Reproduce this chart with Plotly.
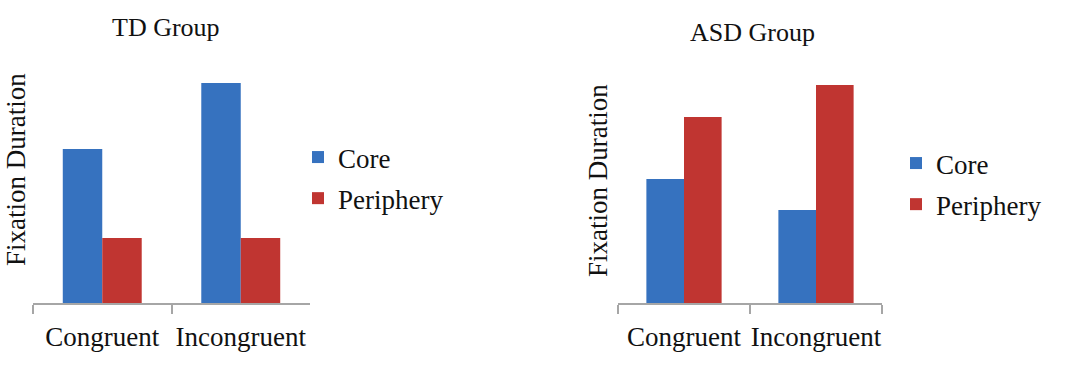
import plotly.graph_objects as go

W, H = 1068, 366
categories = ["Congruent", "Incongruent"]
td_core = [154, 220]
td_periphery = [65, 65]
asd_core = [124, 93]
asd_periphery = [186, 218]
titles = ["TD Group", "ASD Group"]
ytitle = "Fixation Duration"

BLUE = "#3672bf"
RED = "#c03531"
AX = "#a6a6a6"
FONT = "Liberation Serif"

fig = go.Figure()
fig.add_trace(go.Bar(x=categories, y=td_core, name="Core", marker=dict(color=BLUE, line_width=0),
                     xaxis="x", yaxis="y", legend="legend", legendgroup="a"))
fig.add_trace(go.Bar(x=categories, y=td_periphery, name="Periphery", marker=dict(color=RED, line_width=0),
                     xaxis="x", yaxis="y", legend="legend", legendgroup="b"))
fig.add_trace(go.Bar(x=categories, y=asd_core, name="Core", marker=dict(color=BLUE, line_width=0),
                     xaxis="x2", yaxis="y2", legend="legend2", legendgroup="c"))
fig.add_trace(go.Bar(x=categories, y=asd_periphery, name="Periphery", marker=dict(color=RED, line_width=0),
                     xaxis="x2", yaxis="y2", legend="legend2", legendgroup="d"))

base = 303
ytop = base - 240
ydom = [(H - base) / H, (H - ytop) / H]

xcommon = dict(type="category", range=[-0.5, 1.5], showline=True, linecolor=AX, linewidth=1.5,
               ticks="outside", tickson="boundaries", ticklen=9, tickcolor=AX, tickwidth=1.5,
               showgrid=False, zeroline=False, tickfont=dict(family=FONT, size=27, color="#111"),
               tickangle=0, ticklabelstandoff=9, automargin=False, fixedrange=True)
ycommon = dict(range=[0, 240], visible=False, showgrid=False, zeroline=False, automargin=False,
               fixedrange=True)

legcommon = dict(font=dict(family=FONT, size=27, color="#111"), bgcolor="rgba(0,0,0,0)",
                 xanchor="left", yanchor="top", tracegroupgap=3, traceorder="grouped",
                 itemclick=False, itemdoubleclick=False)

fig.update_layout(
    width=W, height=H, margin=dict(l=0, r=0, t=0, b=0),
    paper_bgcolor="white", plot_bgcolor="white",
    barmode="group", bargap=0.43, bargroupgap=0,
    xaxis=dict(domain=[33 / W, 310 / W], anchor="y", **xcommon),
    yaxis=dict(domain=ydom, anchor="x", **ycommon),
    xaxis2=dict(domain=[618 / W, 882 / W], anchor="y2", **xcommon),
    yaxis2=dict(domain=ydom, anchor="x2", **ycommon),
    legend=dict(x=298 / W, y=1 - 133 / H, **legcommon),
    legend2=dict(x=896 / W, y=1 - 139 / H, **legcommon),
    annotations=[
        dict(text=titles[0], x=166 / W, y=1 - 28 / H, xref="paper", yref="paper", showarrow=False,
             xanchor="center", yanchor="middle", font=dict(family=FONT, size=26, color="#111")),
        dict(text=titles[1], x=752 / W, y=1 - 33 / H, xref="paper", yref="paper", showarrow=False,
             xanchor="center", yanchor="middle", font=dict(family=FONT, size=26, color="#111")),
        dict(text=ytitle, x=16 / W, y=1 - 170 / H, xref="paper", yref="paper", showarrow=False,
             textangle=-90, xanchor="center", yanchor="middle", font=dict(family=FONT, size=27, color="#111")),
        dict(text=ytitle, x=598 / W, y=1 - 181 / H, xref="paper", yref="paper", showarrow=False,
             textangle=-90, xanchor="center", yanchor="middle", font=dict(family=FONT, size=27, color="#111")),
    ],
)

fig.write_html("out.html")
